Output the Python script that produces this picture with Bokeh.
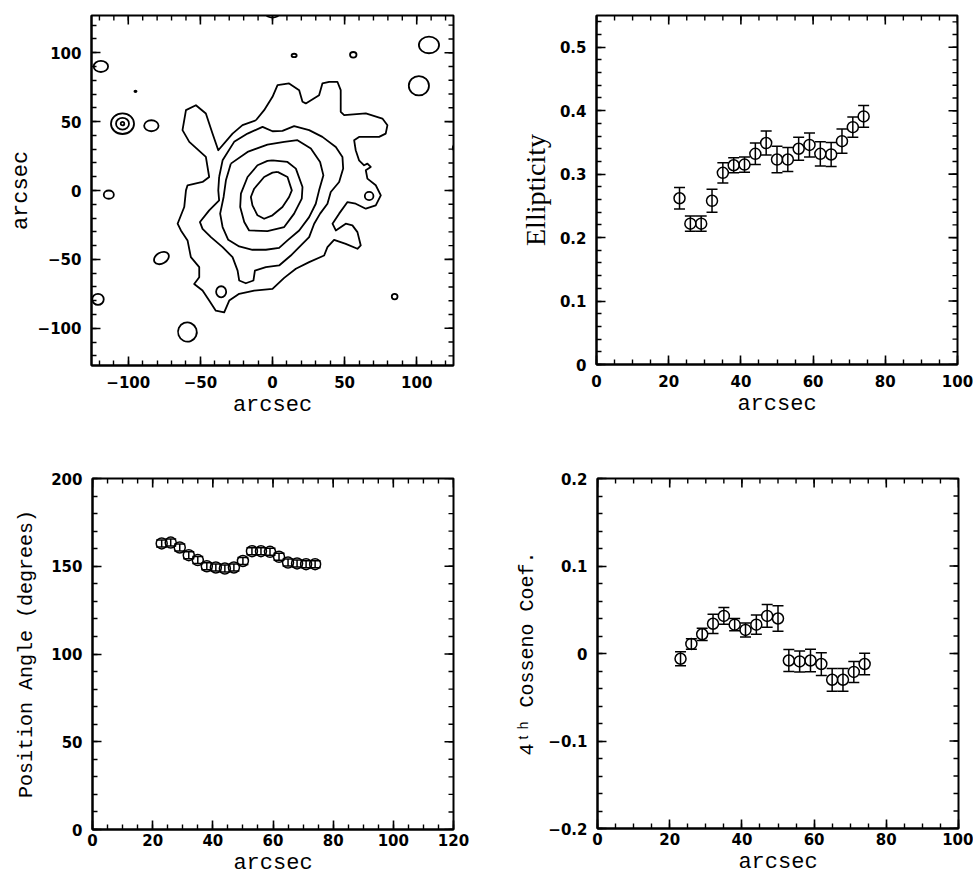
import numpy as np
from bokeh.plotting import figure
from bokeh.models import FixedTicker, Whisker, ColumnDataSource, TeeHead, Range1d
from bokeh.layouts import column, row
from bokeh.embed import file_html
from bokeh.resources import INLINE

# ---------------- data ----------------
radius = [23, 26, 29, 32, 35, 38, 41, 44, 47, 50, 53, 56, 59, 62, 65, 68, 71, 74]
ellipticity = [0.262, 0.222, 0.222, 0.258, 0.302, 0.314, 0.315, 0.332, 0.349, 0.323,
               0.323, 0.340, 0.346, 0.332, 0.331, 0.352, 0.374, 0.391]
ellipticity_err = [0.017, 0.012, 0.012, 0.018, 0.016, 0.012, 0.012, 0.017, 0.019, 0.021,
                   0.019, 0.018, 0.019, 0.019, 0.019, 0.019, 0.016, 0.017]
position_angle = [163.0, 163.5, 160.7, 156.3, 153.5, 150.0, 149.3, 148.7, 149.3, 153.0,
                  158.6, 158.6, 158.2, 155.4, 152.1, 151.6, 151.2, 151.2]
position_angle_err = [2.0] * 18
cos4 = [-0.006, 0.011, 0.022, 0.034, 0.043, 0.033, 0.027, 0.033, 0.043, 0.040,
        -0.008, -0.009, -0.008, -0.012, -0.030, -0.030, -0.021, -0.012]
cos4_err = [0.008, 0.006, 0.007, 0.011, 0.0095, 0.007, 0.008, 0.011, 0.013, 0.0145,
            0.0127, 0.012, 0.0128, 0.013, 0.013, 0.013, 0.012, 0.0124]

# galaxy isophotes (arcsec), innermost to outermost
c1_x = [3.5, 10.4, 13.4, 11.5, 6.9, 0, -5.8, -10.4, -13.9, -15, -12.7, -5.8, 0]
c1_y = [13.5, 9.8, 0.1, -4.7, -12, -18, -20.5, -18, -10.8, -4.7, 1.3, 9.8, 13]
c2_x = [0, 10.4, 16.2, 20.8, 20.3, 15, 8.1, -3.5, -16.2, -19.6, -22.4, -21.9, -17.3, -10.4, -3.5]
c2_y = [21.9, 20.7, 15.9, 2.5, -5.9, -16.8, -26.5, -29.5, -29, -22.9, -12, -2.3, 9.8, 18.3, 21.5]
c3_x = [-28.9, -17.3, -3.5, 8.1, 17.3, 26.6, 33, 35.3, 32.3, 30, 25.4, 18.5, 10.4, 4.6, -4.6,
        -13.9, -23.1, -30.7, -34.6, -36.3, -33.9, -32.3]
c3_y = [19.5, 28, 33.3, 35.3, 36.5, 30.4, 20.7, 11, 0.1, -9.6, -19.3, -29, -36.2, -41.6, -43,
        -43, -40.6, -35.8, -26.5, -16.8, -4.7, 7.4]
c4_x = [-37, -34.6, -26.6, -17.3, -6.9, 0, 6.9, 15, 25.4, 34.6, 43.9, 48.5, 49, 46.2, 40.4,
        38.1, 33, 28.9, 25.4, 18.5, 12.7, 4.6, -4.6, -12.2, -13.2, -18.5, -23.1, -24.2, -27.7,
        -34.6, -42.7, -48.5, -50.3, -43.9, -37, -37.6]
c4_y = [9.8, 21.9, 35.3, 41.3, 46.2, 43, 43.3, 46.7, 43.8, 38.9, 31.6, 24.4, 15.9, 6.2, -1.1,
        -9.6, -16.8, -24.1, -33.8, -41.1, -47.2, -54.4, -55.6, -58.1, -65.3, -67.3, -65.3,
        -58.1, -48.4, -41.1, -33.8, -27.8, -22.9, -14.4, -7.2, 0.1]
c5_x = [-11.5, -5.8, 0, 3.5, 11.5, 18.5, 20.8, 23.1, 32.3, 34.6, 39.3, 45, 47.3, 47.3, 49.7,
        64.7, 76.2, 79.7, 78.5, 73.9, 60, 56.6, 57.7, 60, 63.5, 65.8, 68.1, 64.7, 65.8, 71.6,
        75.1, 71.6, 64.7, 57.7, 52, 46.2, 41.6, 43.9, 50.8, 55.4, 58.9, 61.2, 58.9, 50.8, 42.7,
        38.1, 35.8, 25.4, 16.2, 8.1, 0, -12.7, -23.1, -30, -33.5, -39.3, -43.9, -48.5, -54.3,
        -50.8, -50.8, -56.6, -58.9, -63.5, -65.8, -61.2, -60, -58.9, -48.5, -43.9, -46.2,
        -57.7, -62.4, -60, -53.1, -46.2, -41.6, -37.6, -27.7, -20.8]
c5_y = [51, 58.3, 68, 76.5, 77.7, 72.8, 64.4, 63.2, 69.2, 77.7, 78.9, 78.9, 72.8, 57.1, 54.7,
        55.9, 52.2, 47.4, 41.3, 38.9, 38.9, 36.5, 29.2, 21.9, 18.3, 19.5, 17.1, 14.7, 8.6, 3.8,
        -3.5, -10.8, -13.2, -9.6, -8.4, -16.8, -24.1, -29, -24.1, -25.3, -30.2, -39.9, -42.3,
        -38.7, -35.8, -41.1, -47.2, -52, -56.8, -63.4, -71.4, -72.6, -75, -79.9, -88.4, -87.2,
        -79.9, -72.6, -67.8, -62.9, -55.6, -48.4, -36.2, -29, -24.1, -12, 0.1, 3.8, 6.2, 9.8,
        24.4, 35.3, 43.8, 58.3, 61.9, 55.9, 41.3, 29.2, 41.3, 47.4]

# isolated sources: centre, full width/height (arcsec), tilt (deg)
src_x = [-119, -113.5, -121, -84, -77, -35.6, -59, 15, 56, 108.5, 101.5, 67, 84.7, 0, 127, -95,
         -104, -104, -104]
src_y = [90, -3, -79, 47, -49, -73.5, -102.7, 98, 98.5, 105.6, 76, -4, -77, 128, 31, 72,
         48.5, 48.5, 48.5]
src_w = [10, 7, 8, 10, 11, 7, 13, 3.5, 4.5, 14, 14, 6, 4, 9, 4, 1.5, 16, 9, 2.5]
src_h = [8, 6, 8, 8, 8, 8, 14, 2.5, 4, 12, 14, 6, 4, 5, 5, 1, 15, 8.5, 2.5]
src_angle = [0, 0, 0, 0, 30, 0, 20, 0, 0, 0, 0, 0, 0, 0, 0, 0, 0, 0, 0]

# ---------------- styling helpers ----------------
TICK_FONT = "DejaVu Sans"
MONO = "Liberation Mono"
MAJ_LEN = 9
MIN_LEN = 5


def setup_axis(ax, major, minor, labels, label_standoff):
    ax.ticker = FixedTicker(ticks=major, minor_ticks=minor)
    ax.major_tick_in = MAJ_LEN
    ax.major_tick_out = 0
    ax.minor_tick_in = MIN_LEN
    ax.minor_tick_out = 0
    ax.major_tick_line_width = 1.6
    ax.minor_tick_line_width = 1.4
    ax.axis_line_width = 2
    ax.axis_line_color = "black"
    ax.major_label_text_font = TICK_FONT
    ax.major_label_text_font_style = "bold"
    ax.major_label_text_font_size = "15px"
    ax.major_label_text_color = "black"
    ax.major_label_standoff = label_standoff
    ax.major_label_overrides = labels


def mirror_ticks(p, xr, yr, xmaj, xmin, ymaj, ymin):
    # tick marks on the top and right frame edges (half of each dash is clipped by the frame)
    p.scatter(x=xmaj, y=[yr[1]] * len(xmaj), marker="dash", size=2 * MAJ_LEN,
              angle=np.pi / 2, line_color="black", line_width=1.6)
    p.scatter(x=xmin, y=[yr[1]] * len(xmin), marker="dash", size=2 * MIN_LEN,
              angle=np.pi / 2, line_color="black", line_width=1.4)
    p.scatter(x=[xr[1]] * len(ymaj), y=ymaj, marker="dash", size=2 * MAJ_LEN,
              line_color="black", line_width=1.6)
    p.scatter(x=[xr[1]] * len(ymin), y=ymin, marker="dash", size=2 * MIN_LEN,
              line_color="black", line_width=1.4)


def make_fig(xr, yr, fw, fh, bl, br, bt, bb, xmaj, xmin, xlab, ymaj, ymin, ylab,
             xtitle, ytitle, ytitle_font, ytitle_size, xlab_standoff, ytitle_standoff):
    p = figure(width=fw + bl + br, height=fh + bt + bb, frame_width=fw, frame_height=fh,
               x_range=Range1d(*xr), y_range=Range1d(*yr),
               output_backend="svg", toolbar_location=None,
               min_border_left=bl, min_border_right=br, min_border_top=bt, min_border_bottom=bb)
    p.grid.visible = False
    p.outline_line_color = "black"
    p.outline_line_width = 2
    p.background_fill_color = "white"
    p.border_fill_color = "white"
    setup_axis(p.xaxis[0], xmaj, xmin, xlab, xlab_standoff)
    setup_axis(p.yaxis[0], ymaj, ymin, ylab, 10)
    xa = p.xaxis[0]
    xa.axis_label = xtitle
    xa.axis_label_text_font = MONO
    xa.axis_label_text_font_style = "normal"
    xa.axis_label_text_font_size = "22px"
    xa.axis_label_text_color = "black"
    xa.axis_label_standoff = 2
    ya = p.yaxis[0]
    ya.axis_label = ytitle
    ya.axis_label_text_font = ytitle_font
    ya.axis_label_text_font_style = "normal"
    ya.axis_label_text_font_size = ytitle_size
    ya.axis_label_text_color = "black"
    ya.axis_label_standoff = ytitle_standoff
    mirror_ticks(p, xr, yr, xmaj, xmin, ymaj, ymin)
    return p


def lbl(vals, texts):
    return {v: t for v, t in zip(vals, texts)}


def errorbar_panel(p, xs, ys, errs):
    src = ColumnDataSource(dict(x=xs, y=ys,
                                lo=[a - b for a, b in zip(ys, errs)],
                                hi=[a + b for a, b in zip(ys, errs)]))
    w = Whisker(base="x", lower="lo", upper="hi", source=src, dimension="height",
                line_color="black", line_width=1.5,
                upper_head=TeeHead(size=11, line_width=1.5, line_color="black"),
                lower_head=TeeHead(size=11, line_width=1.5, line_color="black"))
    p.add_layout(w)
    p.scatter("x", "y", source=src, marker="circle", size=11, fill_color=None,
              line_color="black", line_width=1.5)


# ---------------- panel 1: contour map ----------------
maj = [-100, -50, 0, 50, 100]
mino = list(range(-120, 121, 10))
labs = lbl(maj, ["\u2212100", "\u221250", "0", "50", "100"])
xr1, yr1 = (-125.5, 125.5), (-127, 127)
p1 = make_fig(xr1, yr1, 362, 350, 91, 47, 15, 95,
              maj, mino, labs, maj, mino, labs, "arcsec", "arcsec", MONO, "22px", 10, 1)
xs = [c + [c[0]] for c in (c1_x, c2_x, c3_x, c4_x, c5_x)]
ys = [c + [c[0]] for c in (c1_y, c2_y, c3_y, c4_y, c5_y)]
p1.multi_line(xs=xs, ys=ys, line_color="black", line_width=1.8, line_join="round")
p1.ellipse(x=src_x, y=src_y, width=src_w, height=src_h,
           angle=[np.deg2rad(a) for a in src_angle],
           fill_color=None, line_color="black", line_width=1.8)

# ---------------- panel 2: ellipticity ----------------
xmaj = [0, 20, 40, 60, 80, 100]
xmin = list(range(0, 101, 5))
xlabs = lbl(xmaj, ["0", "20", "40", "60", "80", "100"])
ymaj2 = [0, 0.1, 0.2, 0.3, 0.4, 0.5]
ymin2 = [i / 100 for i in range(0, 56, 2)]
ylabs2 = lbl(ymaj2, ["0", "0.1", "0.2", "0.3", "0.4", "0.5"])
p2 = make_fig((0, 100), (0, 0.55), 361, 349, 96, 16, 15, 96,
              xmaj, xmin, xlabs, ymaj2, ymin2, ylabs2, "arcsec", "Ellipticity",
              "Liberation Serif", "28px", 10, 6)
errorbar_panel(p2, radius, ellipticity, ellipticity_err)

# ---------------- panel 3: position angle ----------------
xmaj3 = [0, 20, 40, 60, 80, 100, 120]
xmin3 = list(range(0, 121, 5))
xlabs3 = lbl(xmaj3, ["0", "20", "40", "60", "80", "100", "120"])
ymaj3 = [0, 50, 100, 150, 200]
ymin3 = list(range(0, 201, 10))
ylabs3 = lbl(ymaj3, ["0", "50", "100", "150", "200"])
p3 = make_fig((0, 120), (0, 200), 361, 351, 92, 47, 18, 47,
              xmaj3, xmin3, xlabs3, ymaj3, ymin3, ylabs3, "arcsec",
              "Position Angle (degrees)", MONO, "20px", 4, 10)
errorbar_panel(p3, radius, position_angle, position_angle_err)

# ---------------- panel 4: 4th cosine coefficient ----------------
ymaj4 = [-0.2, -0.1, 0, 0.1, 0.2]
ymin4 = [i / 100 for i in range(-20, 21, 2)]
ylabs4 = lbl(ymaj4, ["\u22120.2", "\u22120.1", "0", "0.1", "0.2"])
p4 = make_fig((0, 100), (-0.2, 0.2), 361, 350, 97, 15, 18, 48,
              xmaj, xmin, xlabs, ymaj4, ymin4, ylabs4, "arcsec",
              "4\u1d57\u02b0 Cosseno Coef.", MONO, "20px", 4, 6)
errorbar_panel(p4, radius, cos4, cos4_err)

layout = column(row(p1, p2), row(p3, p4))
open("out.html", "w").write(file_html(layout, INLINE))
